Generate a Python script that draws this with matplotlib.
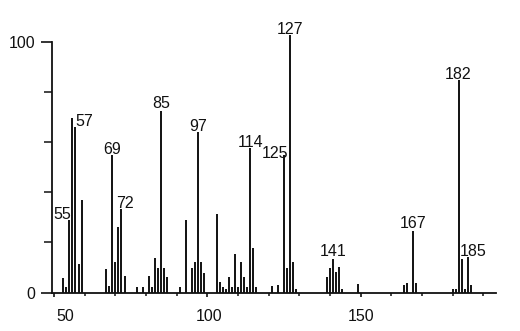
import numpy as np
import matplotlib
matplotlib.use('Agg')
import matplotlib.pyplot as plt
from matplotlib.transforms import ScaledTranslation

plt.rcParams['font.family'] = ['Liberation Sans', 'DejaVu Sans']

# --- spectrum data (m/z, relative intensity) ---
masses = [53, 54, 55, 56, 57, 58, 59,
          67, 68, 69, 70, 71, 72, 73,
          77, 79, 81, 82, 83, 84, 85, 86, 87,
          91, 93, 95, 96, 97, 98, 99,
          103, 104, 105, 106, 107, 108, 109, 110, 111, 112, 113, 114, 115, 116,
          121, 123, 125, 126, 127, 128, 129,
          139, 140, 141, 142, 143, 144, 149,
          164, 165, 167, 168,
          180, 181, 182, 183, 184, 185, 186]
intensity = [5.7, 2.1, 28.9, 69.7, 65.9, 11.2, 36.9,
             9.2, 2.4, 54.8, 12.0, 26.3, 33.3, 6.6,
             2.0, 2.0, 6.6, 2.0, 13.9, 9.6, 72.5, 9.6, 6.3,
             2.3, 28.9, 9.8, 12.3, 64.1, 12.3, 7.9,
             31.3, 4.1, 2.0, 1.4, 6.3, 2.0, 15.2, 2.0, 12.0, 6.3, 2.0, 57.7, 17.6, 2.0,
             2.4, 3.0, 54.8, 9.6, 102.7, 12.0, 1.4,
             6.3, 9.6, 13.4, 8.0, 10.0, 1.5, 3.5,
             3.0, 3.7, 24.6, 3.7,
             1.4, 1.4, 84.7, 13.4, 1.4, 14.3, 3.0]

peak_labels = [55, 57, 69, 72, 85, 97, 114, 125, 127, 141, 167, 182, 185]

# label nudges in pixels (dx, dy) so they sit like the original
label_nudge = {55: (-7, 0), 57: (9, 0), 72: (3, 0), 85: (0, 2), 125: (-9, -4),
               141: (0, 2), 167: (0, 2), 182: (-1, 0), 185: (5, 0)}

fig = plt.figure(figsize=(5.2, 3.31), dpi=100)
ax = fig.add_axes([0.0994, 0.1163, 0.8538, 0.7577])

ax.vlines(masses, 0, intensity, colors='#111111', linewidth=1.4, clip_on=False)

lookup = dict(zip(masses, intensity))
for m in peak_labels:
    dx, dy = label_nudge.get(m, (0, 0))
    ax.annotate(str(m), (m, lookup[m]), xytext=(dx, dy + 1), textcoords='offset pixels',
                ha='center', va='baseline', fontsize=11.5, color='#111111',
                annotation_clip=False)

ax.set_xlim(49.25, 194)
ax.set_ylim(0, 100)

for s in ['top', 'right']:
    ax.spines[s].set_visible(False)
for s in ['left', 'bottom']:
    ax.spines[s].set_linewidth(1.3)
    ax.spines[s].set_color('#111111')

ax.set_xticks([50, 100, 150])
ax.set_xticks(np.arange(60, 200, 10), minor=True)
ax.set_yticks([0, 100])
ax.set_yticks([20, 40, 60, 80], minor=True)

ax.tick_params(axis='x', which='major', length=3, width=1.2, pad=9, labelsize=11.5,
               colors='#111111')
ax.tick_params(axis='x', which='minor', length=2.5, width=1.1, colors='#111111')
ax.tick_params(axis='y', which='major', length=8, width=1.2, pad=4, labelsize=11.5,
               colors='#111111')
ax.tick_params(axis='y', which='minor', length=6, width=1.1, colors='#111111')

# "50" and "100" labels sit a little right of their ticks in the original
shifts = [0.11, 0.02, 0.0]
for lab, sh in zip(ax.get_xticklabels(), shifts):
    lab.set_transform(lab.get_transform() + ScaledTranslation(sh, 0, fig.dpi_scale_trans))

fig.savefig('out.png', dpi=100)
